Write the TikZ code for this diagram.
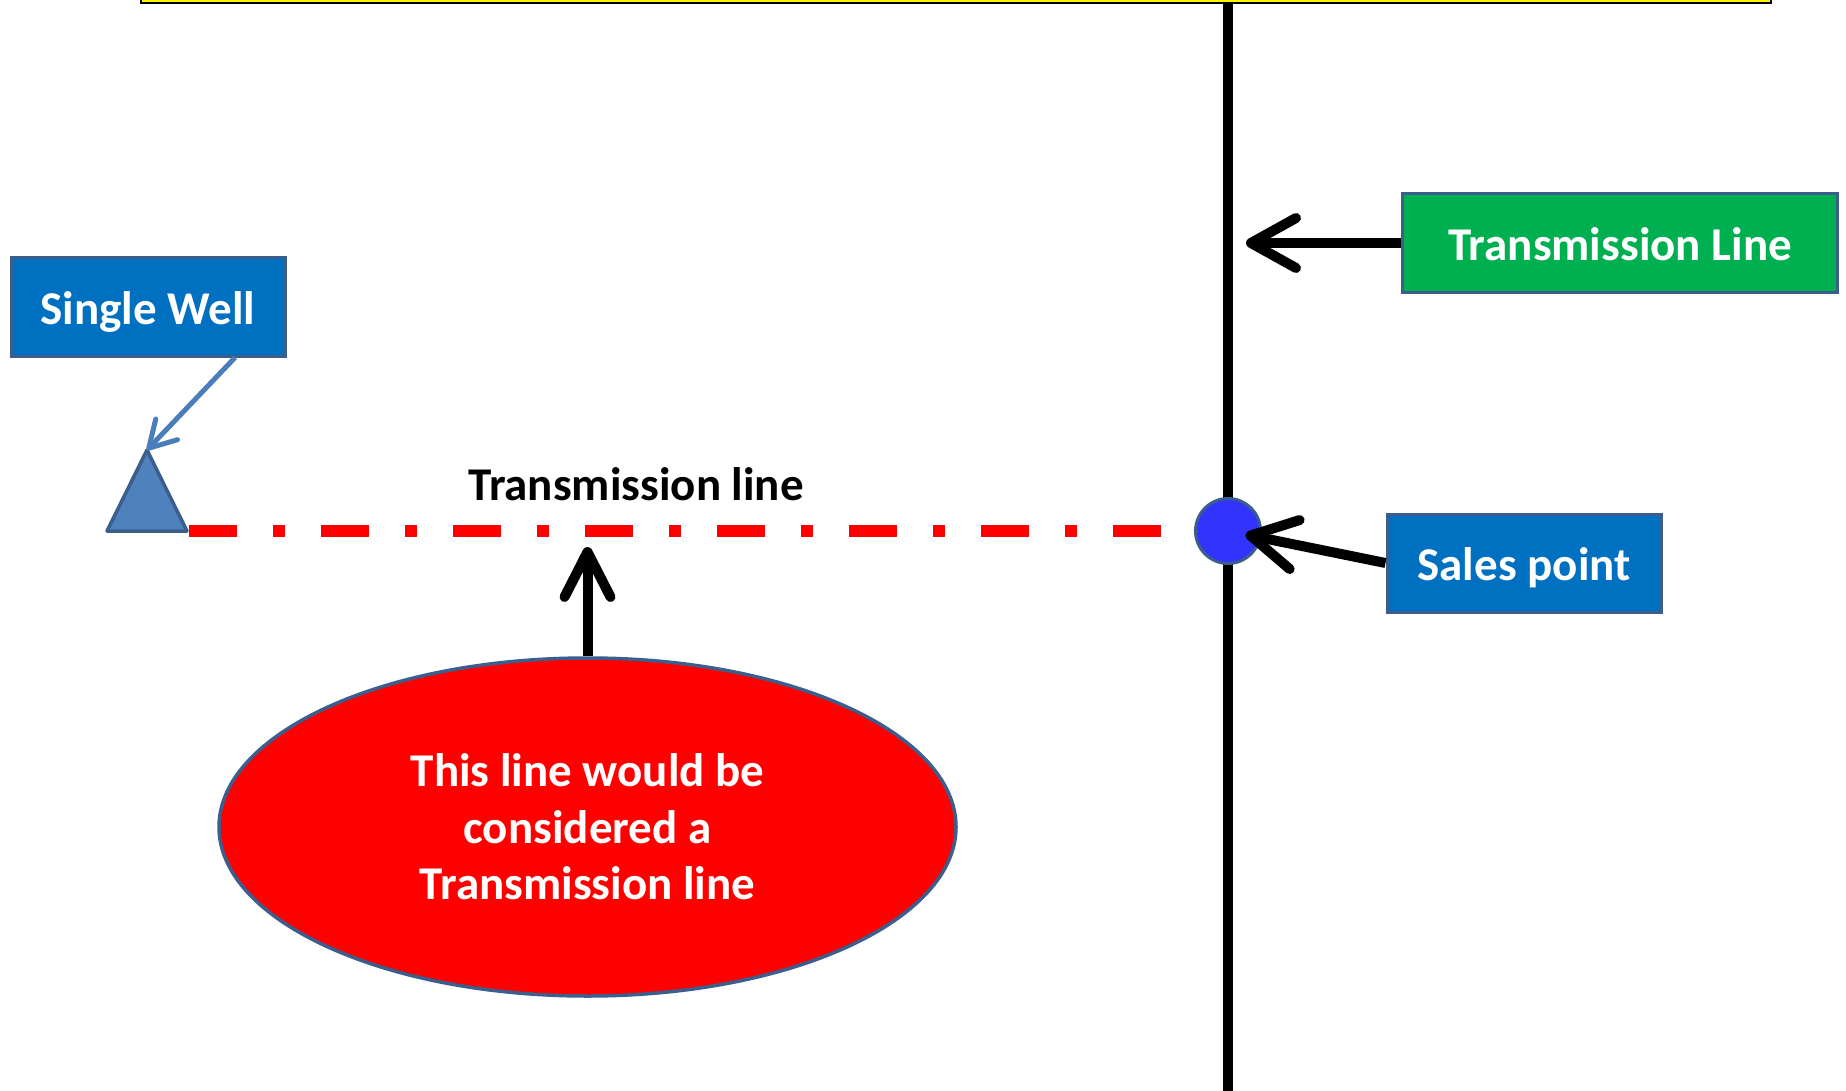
\documentclass[tikz,border=0pt]{standalone}
\usepackage{fontspec}
\setmainfont{Carlito}
\usetikzlibrary{arrows.meta,shapes.geometric}
\definecolor{boxblue}{HTML}{0070C0}
\definecolor{edgeblue}{HTML}{3B5E8C}
\definecolor{boxgreen}{HTML}{00B050}
\definecolor{wellblue}{HTML}{4F81BD}
\definecolor{wellarrow}{HTML}{4A7EBB}
\definecolor{salesdot}{HTML}{3333FF}
\begin{document}
\begin{tikzpicture}[x=1pt,y=-1pt,
  lbl/.style={font=\fontsize{47}{56.5}\selectfont\bfseries},
  labelbox/.style={draw=edgeblue, line width=3pt, inner sep=0pt, text=white, lbl, text height=35pt, text depth=0pt},
  blkarrow/.style={draw=black, line width=10pt, -{Straight Barb[length=45pt,width=50pt,round]}}
]
\useasboundingbox (0,0) rectangle (1846,1091);
% top yellow bar (cropped)
\node[draw=black, fill=yellow, line width=2pt, minimum width=1630pt, minimum height=20pt, inner sep=0pt] (bar) at (956,-7) {};
% vertical transmission line
\coordinate (vtop) at (1228,3);
\coordinate (vbot) at (1228,1100);
\draw[line width=10pt] (vtop) -- (vbot);
% sales point circle
\node[circle, draw=edgeblue, fill=salesdot, line width=3pt, minimum size=65pt, inner sep=0pt] (sp) at (1228,531) {};
% well triangle
\coordinate (wapex) at (147,450);
\coordinate (wleft) at (107,531);
\coordinate (wright) at (187,531);
\draw[fill=wellblue, draw=edgeblue, line width=3.5pt, line join=round] (wapex) -- (wleft) -- (wright) -- cycle;
% red dash-dot line
\draw[red, line width=12pt, dash pattern=on 48pt off 36pt on 12pt off 36pt] ([xshift=1.5pt]wright) -- (sp.west);
% labels
\node[labelbox, fill=boxblue, minimum width=274pt, minimum height=98pt] (well) at (148,307) {Single Well};
\node[labelbox, fill=boxgreen, minimum width=435pt, minimum height=98pt] (tline) at (1620,243) {Transmission Line};
\node[labelbox, fill=boxblue, minimum width=274pt, minimum height=98pt] (sales) at (1524,563) {Sales point};
\node[lbl, text=black, anchor=base] (tllabel) at (636,500) {Transmission line};
\node[ellipse, draw=edgeblue, fill=red, line width=3.5pt, minimum width=737pt, minimum height=338pt, inner sep=0pt, text=white, lbl, align=center] (note) at (587.5,827) {This line would be\\considered a\\Transmission line};
% connectors
\draw[wellarrow, line width=5pt, -{Straight Barb[length=26pt,width=30pt,round]}] ([xshift=87pt]well.south) -- (wapex);
\coordinate (tltip) at (1246,243);
\draw[blkarrow] (tline.west) -- (tltip);
\draw[blkarrow, shorten >=18pt] (sales.west) -- (sp.center);
\coordinate (uptip) at (587.5,547);
\draw[blkarrow, -{Straight Barb[length=45pt,width=46pt,round]}] (note.north) -- (uptip);
\end{tikzpicture}
\end{document}
